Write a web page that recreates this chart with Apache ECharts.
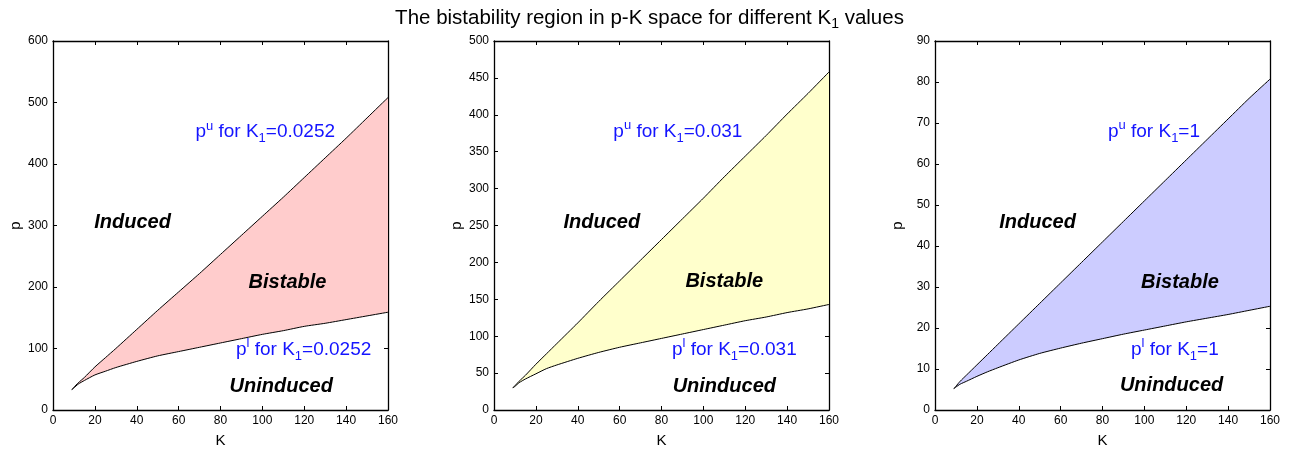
<!DOCTYPE html>
<html>
<head>
<meta charset="utf-8">
<script src="https://cdn.jsdelivr.net/npm/echarts@6/dist/echarts.min.js"></script>
<style>
  html, body { margin: 0; padding: 0; background: #fff; }
  #chart { width: 1299px; height: 453px; }
</style>
</head>
<body>
<div id="chart"></div>
<script>
// K grid shared by all three panels
const K = [9, 10, 12, 15, 20, 25, 30, 40, 50, 60, 70, 80, 90, 100, 110, 120, 130, 140, 150, 160];

// Bistability boundaries p^l (lower) and p^u (upper) for each K1
const lowerA = [33, 36, 42, 48, 57, 63, 69, 79, 88, 95, 102, 109, 116, 123, 129, 136, 141, 147, 153, 159];
const upperA = [33, 37, 44, 53, 70, 85, 100, 131, 162, 192, 222, 253, 284, 315, 346, 378, 410, 442, 475, 508];

const lowerB = [30, 32, 37, 42, 49, 56, 61, 70, 78, 85, 91, 97, 103, 109, 115, 121, 126, 132, 137, 143];
const upperB = [30, 33, 39, 47, 62, 76, 90, 118, 147, 175, 203, 231, 259, 287, 316, 344, 372, 401, 429, 458];

const lowerC = [5.2, 5.6, 6.3, 7.0, 8.2, 9.3, 10.3, 12.2, 13.8, 15.1, 16.3, 17.4, 18.5, 19.5, 20.5, 21.5, 22.4, 23.3, 24.3, 25.3];
const upperC = [5.2, 5.8, 7.0, 8.5, 11.0, 13.5, 16.0, 21.0, 26.0, 31.0, 36.0, 41.0, 46.0, 51.0, 56.0, 61.0, 66.0, 71.0, 76.0, 80.7];

// Per-panel settings
const k1Labels = ['0.0252', '0.031', '1'];
const yMax = [600, 500, 90];
const yStep = [100, 50, 10];
const fills = ['#ffcccc', '#ffffcc', '#ccccff'];
const lowers = [lowerA, lowerB, lowerC];
const uppers = [upperA, upperB, upperC];

// Region-name anchor points [K, p] per panel
const inducedAt = [[38, 305], [51.5, 254], [49, 45.8]];
const bistableAt = [[112, 208], [110, 173.5], [117, 31.2]];
const uninducedAt = [[109, 39], [110, 32.5], [113, 5.9]];
const upperLabelAt = [[68, 452], [57, 377], [82.6, 67.9]];
const lowerLabelAt = [[87.4, 98], [85, 81.5], [93.6, 14.7]];

const FONT = '"Liberation Sans", Arial, sans-serif';
const gridPos = [
  { left: 53, right: 911, top: 41, bottom: 42 },
  { left: 494, right: 470, top: 41, bottom: 42 },
  { left: 935, right: 29, top: 41, bottom: 42 }
];

const xAxes = [], yAxes = [], series = [];
const tickStyle = { show: true, inside: true, length: 4, lineStyle: { color: '#000', width: 1 } };
const lineStyle = { show: true, onZero: false, lineStyle: { color: '#000', width: 1.3 } };
const tickLabel = { color: '#000', fontFamily: FONT, fontSize: 12 };

const BLUE = '#1414ff';
const blueRich = {
  base: { color: BLUE, fontFamily: FONT, fontSize: 19 },
  sup: { color: BLUE, fontFamily: FONT, fontSize: 13, padding: [0, 0, 12, 0] },
  sub: { color: BLUE, fontFamily: FONT, fontSize: 13, padding: [13, 0, 0, 0] }
};

function regionLabel(pt, text, grid) {
  return {
    type: 'scatter', xAxisIndex: grid * 2, yAxisIndex: grid * 2,
    symbolSize: 0, silent: true, z: 10,
    itemStyle: { opacity: 1 },
    data: [pt],
    label: {
      show: true, position: 'inside', formatter: text, opacity: 1,
      color: '#000', fontFamily: FONT, fontSize: 20, fontWeight: 'bold', fontStyle: 'italic'
    }
  };
}

function curveLabel(pt, sup, k1, grid) {
  return {
    type: 'scatter', xAxisIndex: grid * 2, yAxisIndex: grid * 2,
    symbolSize: 0, silent: true, z: 10,
    itemStyle: { opacity: 1 },
    data: [pt],
    label: {
      show: true, position: 'right', distance: 0, opacity: 1,
      formatter: '{base|p}{sup|' + sup + '}{base| for K}{sub|1}{base|=' + k1 + '}',
      rich: blueRich
    }
  };
}

for (let g = 0; g < 3; g++) {
  // bottom + top x axes, left + right y axes (the mirrored ones only carry ticks)
  xAxes.push({
    gridIndex: g, type: 'value', min: 0, max: 160, interval: 20, position: 'bottom',
    axisLine: lineStyle, axisTick: tickStyle, splitLine: { show: false },
    axisLabel: Object.assign({ margin: 5 }, tickLabel),
    name: 'K', nameLocation: 'middle', nameGap: 23,
    nameTextStyle: { color: '#000', fontFamily: FONT, fontSize: 15 }
  });
  xAxes.push({
    gridIndex: g, type: 'value', min: 0, max: 160, interval: 20, position: 'top',
    axisLine: lineStyle, axisTick: tickStyle, splitLine: { show: false },
    axisLabel: { show: false }
  });
  yAxes.push({
    gridIndex: g, type: 'value', min: 0, max: yMax[g], interval: yStep[g], position: 'left',
    axisLine: lineStyle, axisTick: tickStyle, splitLine: { show: false },
    axisLabel: Object.assign({ margin: 5 }, tickLabel),
    name: 'p', nameLocation: 'middle', nameGap: 30,
    nameTextStyle: { color: '#000', fontFamily: FONT, fontSize: 15 }
  });
  yAxes.push({
    gridIndex: g, type: 'value', min: 0, max: yMax[g], interval: yStep[g], position: 'right',
    axisLine: lineStyle, axisTick: tickStyle, splitLine: { show: false },
    axisLabel: { show: false }
  });

  const lo = lowers[g], up = uppers[g], fill = fills[g];

  // shaded bistable region between p^l and p^u
  series.push({
    type: 'custom', xAxisIndex: g * 2, yAxisIndex: g * 2, silent: true, z: 1,
    data: [0],
    renderItem: function (params, api) {
      const pts = [];
      for (let i = 0; i < K.length; i++) pts.push(api.coord([K[i], up[i]]));
      for (let i = K.length - 1; i >= 0; i--) pts.push(api.coord([K[i], lo[i]]));
      return { type: 'polygon', shape: { points: pts }, style: { fill: fill, stroke: null } };
    }
  });

  // boundary curves
  [up, lo].forEach(function (arr) {
    series.push({
      type: 'line', xAxisIndex: g * 2, yAxisIndex: g * 2, silent: true, z: 3,
      showSymbol: false, symbol: 'none', smooth: 0.2,
      lineStyle: { color: '#000', width: 1 },
      data: K.map(function (k, i) { return [k, arr[i]]; })
    });
  });

  series.push(regionLabel(inducedAt[g], 'Induced', g));
  series.push(regionLabel(bistableAt[g], 'Bistable', g));
  series.push(regionLabel(uninducedAt[g], 'Uninduced', g));
  series.push(curveLabel(upperLabelAt[g], 'u', k1Labels[g], g));
  series.push(curveLabel(lowerLabelAt[g], 'l', k1Labels[g], g));
}

const chart = echarts.init(document.getElementById('chart'), null, { renderer: 'canvas' });
chart.setOption({
  animation: false,
  backgroundColor: '#fff',
  title: {
    left: 'center', top: 0,
    text: '{t|The bistability region in p-K space for different K}{s|1}{t| values}',
    textStyle: {
      fontWeight: 'normal',
      rich: {
        t: { color: '#000', fontFamily: FONT, fontSize: 20.5, fontWeight: 'normal' },
        s: { color: '#000', fontFamily: FONT, fontSize: 14, fontWeight: 'normal', padding: [12, 0, 0, 0] }
      }
    }
  },
  grid: gridPos,
  xAxis: xAxes,
  yAxis: yAxes,
  series: series
});
</script>
</body>
</html>
